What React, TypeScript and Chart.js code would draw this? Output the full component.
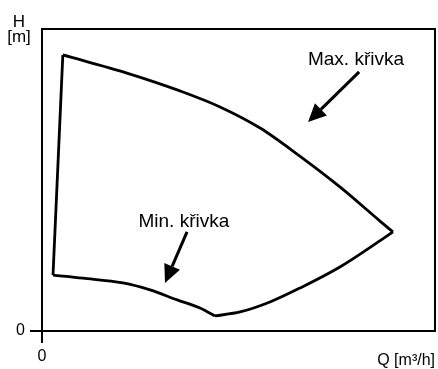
import React, { useEffect, useRef } from "react";
import { Chart, registerables } from "chart.js";

Chart.register(...registerables);

// Max. křivka (upper boundary), Q vs H in relative units
const maxQ = [5.3, 21.6, 35.1, 45.3, 55.5, 65.6, 75.8, 86.0, 89.3];
const maxH = [91.4, 85.4, 79.5, 74.2, 67.2, 57.9, 47.7, 36.4, 32.8];

// Min. křivka, left part (down to its lowest point)
const minLeftQ = [2.8, 10.4, 20.6, 27.5, 34.4, 40.2, 44.0];
const minLeftH = [18.5, 17.5, 15.9, 13.6, 10.3, 7.6, 5.0];

// Min. křivka, right part (rising to the end point of the max curve)
const minRightQ = [44.0, 50.4, 58.0, 65.6, 75.8, 86.8, 89.3];
const minRightH = [5.0, 6.3, 9.6, 14.2, 21.2, 30.6, 32.8];

// Left edge (lowest speed / closed valve side)
const edgeQ = [5.3, 2.8];
const edgeH = [91.4, 18.5];

const tickValues = [0];
const yTitle = ["H", "[m]"];
const xTitle = "Q [m³/h]";
const maxLabel = "Max. křivka";
const minLabel = "Min. křivka";

// annotation anchors in data units: [textQ, textH(baseline), arrowFromQ, arrowFromH, arrowToQ, arrowToH]
const maxNote = [79.9, 88.1, 80.7, 85.8, 67.7, 69.2];
const minNote = [36.1, 34.4, 36.9, 32.8, 31.3, 15.9];

const FONT = "'Liberation Sans', Arial, sans-serif";

const pts = (q: number[], h: number[]) => q.map((x, i) => ({ x, y: h[i] }));

function drawArrow(ctx: CanvasRenderingContext2D, x1: number, y1: number, x2: number, y2: number) {
  const ang = Math.atan2(y2 - y1, x2 - x1);
  const headLen = 18;
  const headHalf = 8.5;
  const bx = x2 - headLen * Math.cos(ang);
  const by = y2 - headLen * Math.sin(ang);
  ctx.save();
  ctx.strokeStyle = "#000";
  ctx.fillStyle = "#000";
  ctx.lineWidth = 3;
  ctx.beginPath();
  ctx.moveTo(x1, y1);
  ctx.lineTo(bx, by);
  ctx.stroke();
  ctx.beginPath();
  ctx.moveTo(x2, y2);
  ctx.lineTo(bx + headHalf * Math.sin(ang), by - headHalf * Math.cos(ang));
  ctx.lineTo(bx - headHalf * Math.sin(ang), by + headHalf * Math.cos(ang));
  ctx.closePath();
  ctx.fill();
  ctx.restore();
}

const decorPlugin = {
  id: "decor",
  afterDraw(chart: any) {
    const { ctx, chartArea, scales } = chart;
    const xs = scales.x;
    const ys = scales.y;
    ctx.save();
    // frame top and right
    ctx.strokeStyle = "#000";
    ctx.lineWidth = 2;
    ctx.beginPath();
    ctx.moveTo(chartArea.left, chartArea.top);
    ctx.lineTo(chartArea.right, chartArea.top);
    ctx.lineTo(chartArea.right, chartArea.bottom);
    ctx.stroke();

    ctx.fillStyle = "#000";
    // y title
    ctx.font = `17px ${FONT}`;
    ctx.textAlign = "center";
    ctx.textBaseline = "alphabetic";
    ctx.fillText(yTitle[0], chartArea.left - 23, chartArea.top - 2);
    ctx.fillText(yTitle[1], chartArea.left - 23, chartArea.top + 13);
    // x title
    ctx.font = `16px ${FONT}`;
    ctx.textAlign = "right";
    ctx.fillText(xTitle, chartArea.right, chartArea.bottom + 34);

    // annotations
    ctx.font = `19px ${FONT}`;
    ctx.textAlign = "center";
    for (const [note, label] of [
      [maxNote, maxLabel],
      [minNote, minLabel],
    ] as [number[], string][]) {
      ctx.fillText(label, xs.getPixelForValue(note[0]), ys.getPixelForValue(note[1]));
      drawArrow(
        ctx,
        xs.getPixelForValue(note[2]),
        ys.getPixelForValue(note[3]),
        xs.getPixelForValue(note[4]),
        ys.getPixelForValue(note[5])
      );
    }
    ctx.restore();
  },
};

export default function App() {
  const ref = useRef<HTMLCanvasElement>(null);
  useEffect(() => {
    if (!ref.current) return;
    const lineDs = (q: number[], h: number[], smooth: boolean) => ({
      data: pts(q, h),
      showLine: true,
      borderColor: "#000",
      borderWidth: 2.8,
      pointRadius: 0,
      cubicInterpolationMode: smooth ? ("monotone" as const) : ("default" as const),
      tension: smooth ? 0.4 : 0,
      borderJoinStyle: "miter" as const,
      fill: false,
    });
    const axis = (isX: boolean) => ({
      type: "linear" as const,
      min: 0,
      max: 100,
      afterBuildTicks: (s: any) => {
        s.ticks = tickValues.map((v) => ({ value: v }));
      },
      afterFit: (s: any) => {
        if (isX) s.height = 38;
        else s.width = 42;
      },
      grid: {
        display: true,
        drawOnChartArea: false,
        drawTicks: true,
        tickLength: 12,
        color: "#000",
        lineWidth: 2,
      },
      border: { display: true, color: "#000", width: 2 },
      ticks: {
        color: "#000",
        font: { family: FONT, size: 16 },
        padding: isX ? 4 : 5,
        maxRotation: 0,
        callback: (v: any) => String(v),
      },
    });
    const chart = new Chart(ref.current, {
      type: "scatter",
      data: {
        datasets: [
          lineDs(maxQ, maxH, true),
          lineDs(minLeftQ, minLeftH, true),
          lineDs(minRightQ, minRightH, true),
          lineDs(edgeQ, edgeH, false),
        ],
      },
      options: {
        responsive: false,
        animation: false,
        layout: { padding: { top: 29, right: 3, left: 0, bottom: 0 } },
        plugins: { legend: { display: false }, tooltip: { enabled: false } },
        scales: { x: axis(true), y: axis(false) },
      },
      plugins: [decorPlugin],
    });
    return () => chart.destroy();
  }, []);
  return (
    <div style={{ position: "absolute", left: 0, top: 0, width: 438, height: 369, background: "#fff" }}>
      <canvas ref={ref} width={438} height={369} style={{ display: "block" }} />
    </div>
  );
}
